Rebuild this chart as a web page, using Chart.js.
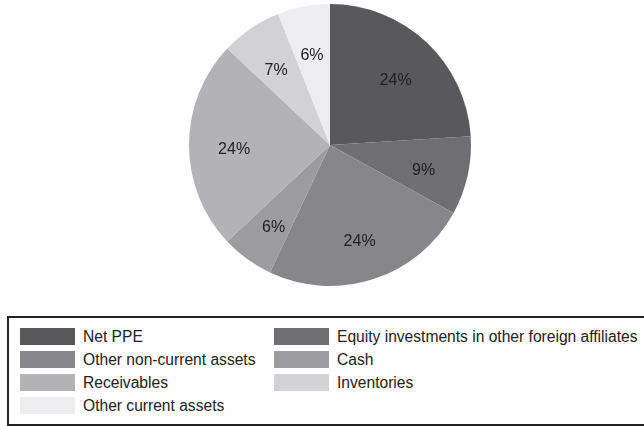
<!DOCTYPE html>
<html>
<head>
<meta charset="utf-8">
<script src="https://cdn.jsdelivr.net/npm/chart.js@4/dist/chart.umd.min.js"></script>
<style>
  html, body { margin: 0; padding: 0; background: #ffffff; width: 644px; height: 426px; overflow: hidden; }
  #wrap { position: absolute; left: 0; top: 0; width: 644px; height: 290px; }
  #legend { position: absolute; left: 7px; top: 316px; width: 680px; height: 110px; box-sizing: border-box;
            border: 2px solid #222; background: #fff; font-family: "Liberation Sans", Arial, sans-serif; font-size: 15.6px; color: #222; }
  .item { position: absolute; height: 17px; display: flex; align-items: center; white-space: nowrap; }
  .sw { width: 55px; height: 17px; margin-right: 8px; flex: none; }
</style>
</head>
<body>
<div id="wrap"><canvas id="c" width="644" height="290"></canvas></div>
<div id="legend"></div>
<script>
const categories = ["Net PPE", "Equity investments in other foreign affiliates", "Other non-current assets", "Cash", "Receivables", "Inventories", "Other current assets"];
const shares = [24, 9, 24, 6, 24, 7, 6];
const sliceColors = ["#59595b", "#6f6f71", "#87878a", "#9c9c9e", "#b3b3b5", "#d2d2d4", "#ededef"];

const labelPlugin = {
  id: 'sliceLabels',
  afterDatasetsDraw(chart) {
    const ctx = chart.ctx;
    const meta = chart.getDatasetMeta(0);
    ctx.save();
    ctx.font = '16px "Liberation Sans", Arial, sans-serif';
    ctx.fillStyle = '#222';
    ctx.textAlign = 'center';
    ctx.textBaseline = 'middle';
    meta.data.forEach((arc, i) => {
      const p = arc.getProps(['x', 'y', 'startAngle', 'endAngle', 'outerRadius'], true);
      const mid = (p.startAngle + p.endAngle) / 2;
      const r = p.outerRadius * 0.68;
      ctx.fillText(shares[i] + '%', p.x + Math.cos(mid) * r, p.y + Math.sin(mid) * r + 5);
    });
    ctx.restore();
  }
};

const chart = new Chart(document.getElementById('c'), {
  type: 'pie',
  data: {
    labels: categories,
    datasets: [{
      data: shares,
      backgroundColor: sliceColors,
      borderWidth: 0,
      hoverOffset: 0,
      radius: 141
    }]
  },
  options: {
    responsive: false,
    animation: false,
    layout: { padding: { left: 16, right: 0, top: 3, bottom: 3 } },
    plugins: { legend: { display: false }, tooltip: { enabled: false } }
  },
  plugins: [labelPlugin]
});

// HTML legend: two columns, row-major order
const legend = document.getElementById('legend');
const colX = [11, 265];
categories.forEach((name, i) => {
  const row = Math.floor(i / 2), col = i % 2;
  const it = document.createElement('div');
  it.className = 'item';
  it.style.left = colX[col] + 'px';
  it.style.top = (10 + row * 23) + 'px';
  const sw = document.createElement('span');
  sw.className = 'sw';
  sw.style.background = sliceColors[i];
  const tx = document.createElement('span');
  tx.textContent = name;
  it.appendChild(sw); it.appendChild(tx);
  legend.appendChild(it);
});
</script>
</body>
</html>
